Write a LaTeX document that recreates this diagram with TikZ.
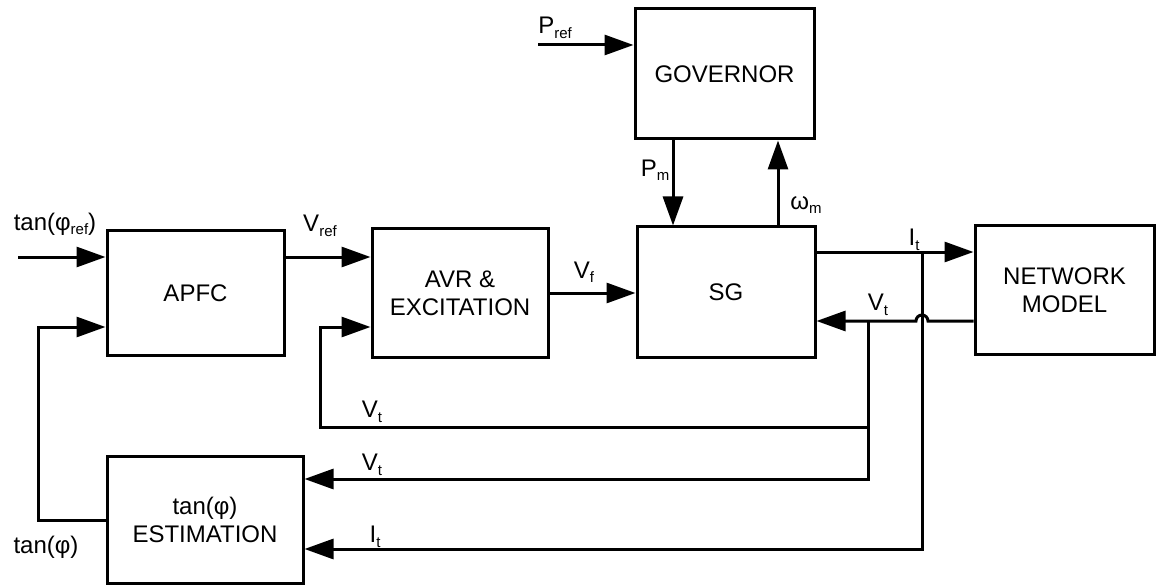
\documentclass[tikz,border=0pt]{standalone}
\usepackage{fontspec}
\setmainfont{Liberation Sans}
\usetikzlibrary{arrows.meta}
\newcommand{\sbs}[1]{\raisebox{-0.35ex}{\fontsize{15}{15}\selectfont #1}}
\begin{document}
\begin{tikzpicture}[x=1pt,y=-1pt,
  blk/.style={draw, line width=3pt, inner sep=0pt, align=center, font=\fontsize{24}{28}\selectfont},
  ln/.style={line width=3pt},
  arr/.style={ln, -{Triangle[length=29pt,width=20pt]}},
  lbl/.style={font=\fontsize{24}{28}\selectfont, inner sep=0pt}]
\useasboundingbox (0,0) rectangle (1158,585);

% blocks
\node[blk, minimum width=177pt, minimum height=124pt] (apfc) at (195.5,293) {APFC};
\node[blk, minimum width=176pt, minimum height=128pt] (avr) at (460,293) {AVR \&\\EXCITATION};
\node[blk, minimum width=178pt, minimum height=130pt] (sg) at (726,292) {SG};
\node[blk, minimum width=179pt, minimum height=130pt] (gov) at (724.5,74) {GOVERNOR};
\node[blk, minimum width=179pt, minimum height=128pt] (net) at (1064.5,290) {NETWORK\\MODEL};
\node[blk, minimum width=196pt, minimum height=127pt] (est) at (205,519.5) {tan(φ)\\ESTIMATION};

% free ends and junctions
\coordinate (tref) at (18,257);
\coordinate (pref) at (538,45);
\coordinate (vtj) at (868,321);
\coordinate (itj) at (922,252);

% forward path
\draw[arr] (tref) -- (apfc.west |- tref);
\draw[arr] (apfc.east |- 0,257) -- (avr.west |- 0,257);
\draw[arr] (avr.east |- 0,293) -- (sg.west |- 0,293);
\draw[arr] (pref) -- (gov.west |- pref);
\draw[arr] (gov.south -| 673,0) -- (sg.north -| 673,0);
\draw[arr] (sg.north -| 778,0) -- (gov.south -| 778,0);
\draw[arr] (sg.east |- itj) -- (net.west |- itj);
\draw[arr] (net.west |- vtj) -- (928,321) arc[start angle=0,end angle=180,radius=6pt] -- (sg.east |- vtj);

% feedback paths
\draw[arr] (vtj) -- (868,427) -- (320,427) -- (320,327) -- (avr.west |- 0,327);
\draw[arr] (868,427) -- (868,479) -- (est.east |- 0,479);
\draw[arr] (itj) -- (922,549) -- (est.east |- 0,549);
\draw[arr] (est.west |- 0,520) -- (38,520) -- (38,327) -- (apfc.west |- 0,327);

% labels
\node[lbl] (l1) at (55,224) {tan(φ\sbs{ref})};
\node[lbl] (l2) at (320,226) {V\sbs{ref}};
\node[lbl] (l3) at (584,272) {V\sbs{f}};
\node[lbl] (l4) at (555,28) {P\sbs{ref}};
\node[lbl] (l5) at (655,170) {P\sbs{m}};
\node[lbl] (l6) at (806,205) {ω\sbs{m}};
\node[lbl] (l7) at (914,240) {I\sbs{t}};
\node[lbl] (l8) at (878,305) {V\sbs{t}};
\node[lbl] (l9) at (372,412) {V\sbs{t}};
\node[lbl] (l10) at (372,465) {V\sbs{t}};
\node[lbl] (l11) at (375,537) {I\sbs{t}};
\node[lbl] (l12) at (46,547) {tan(φ)};
\end{tikzpicture}
\end{document}
